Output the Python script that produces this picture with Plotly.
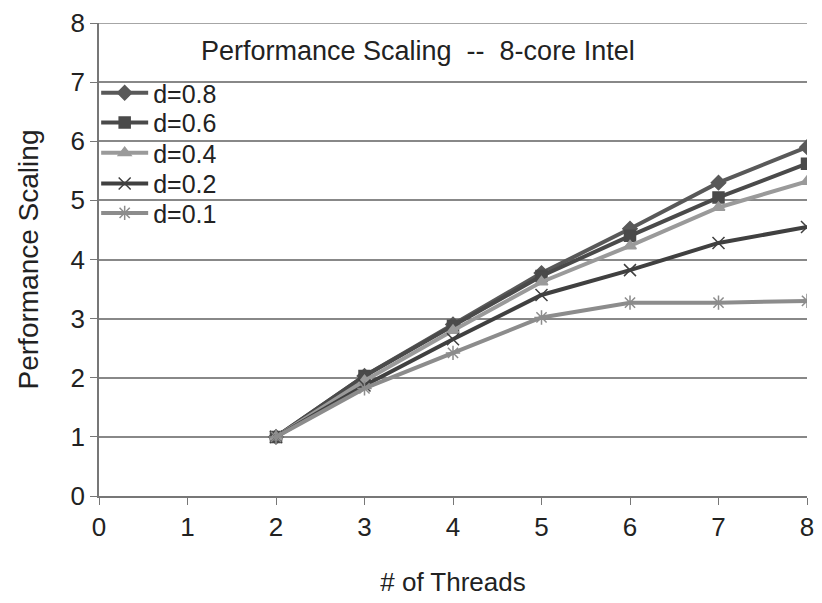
import plotly.graph_objects as go

threads = [2, 3, 4, 5, 6, 7, 8]
d08 = [1.0, 2.03, 2.9, 3.77, 4.52, 5.3, 5.9]
d06 = [1.0, 2.03, 2.88, 3.72, 4.4, 5.05, 5.62]
d04 = [1.0, 1.95, 2.8, 3.62, 4.23, 4.88, 5.32]
d02 = [1.0, 1.87, 2.65, 3.4, 3.82, 4.28, 4.55]
d01 = [1.0, 1.82, 2.42, 3.02, 3.27, 3.27, 3.3]
names = ["d=0.8", "d=0.6", "d=0.4", "d=0.2", "d=0.1"]
values = [d08, d06, d04, d02, d01]

colors = ["#595959", "#4a4a4a", "#9a9a9a", "#404040", "#8c8c8c"]
symbols = ["diamond", "square", "triangle-up", "x-thin-open", "asterisk-open"]
sizes = [11, 11, 11, 12, 12]
legend_y = [0.852, 0.789, 0.725, 0.660, 0.598]

FONT = "Liberation Sans, Arial, sans-serif"
fig = go.Figure()
layout_legends = {}
for i, (name, ys) in enumerate(zip(names, values)):
    lg = "legend" if i == 0 else f"legend{i+1}"
    col = colors[i]
    fig.add_trace(go.Scatter(
        x=threads, y=ys, name=name, mode="lines+markers", legend=lg,
        line=dict(color=col, width=4),
        marker=dict(symbol=symbols[i], size=sizes[i], color=col,
                    line=dict(color=col, width=1.5)),
    ))
    layout_legends[lg] = dict(x=-0.004, y=legend_y[i], xanchor="left", yanchor="middle",
                              bgcolor="rgba(0,0,0,0)", font=dict(size=25, family=FONT, color="#222"),
                              itemwidth=47)

fig.update_layout(
    width=822, height=603,
    margin=dict(l=99, r=8, t=17, b=107),
    paper_bgcolor="white", plot_bgcolor="white",
    font=dict(family=FONT, color="#222", size=25),
    showlegend=True,
    annotations=[dict(text="Performance Scaling  --  8-core Intel", x=0.451, y=0.94,
                      xref="paper", yref="paper", showarrow=False, yanchor="middle",
                      xanchor="center", font=dict(size=27, color="#222"))],
    **layout_legends,
)
fig.update_xaxes(range=[0, 8], dtick=1, showgrid=False, showline=True, linecolor="#777",
                 linewidth=1.5, ticks="outside", ticklen=7, tickcolor="#777",
                 ticklabeloverflow="allow",
                 title=dict(text="# of Threads", font=dict(size=26), standoff=32),
                 tickfont=dict(size=26), zeroline=False)
fig.update_yaxes(range=[0, 8], dtick=1, showgrid=True, gridcolor="#888", gridwidth=1.5,
                 showline=True, linecolor="#777", linewidth=1.5, ticks="outside",
                 ticklen=7, tickcolor="#777", zeroline=False,
                 title=dict(text="Performance Scaling", font=dict(size=28), standoff=24),
                 tickfont=dict(size=26))
fig.add_shape(type="line", xref="paper", yref="y", x0=0, x1=1, y0=8, y1=8,
              line=dict(color="#888", width=1.5))

fig.write_html("out.html")
